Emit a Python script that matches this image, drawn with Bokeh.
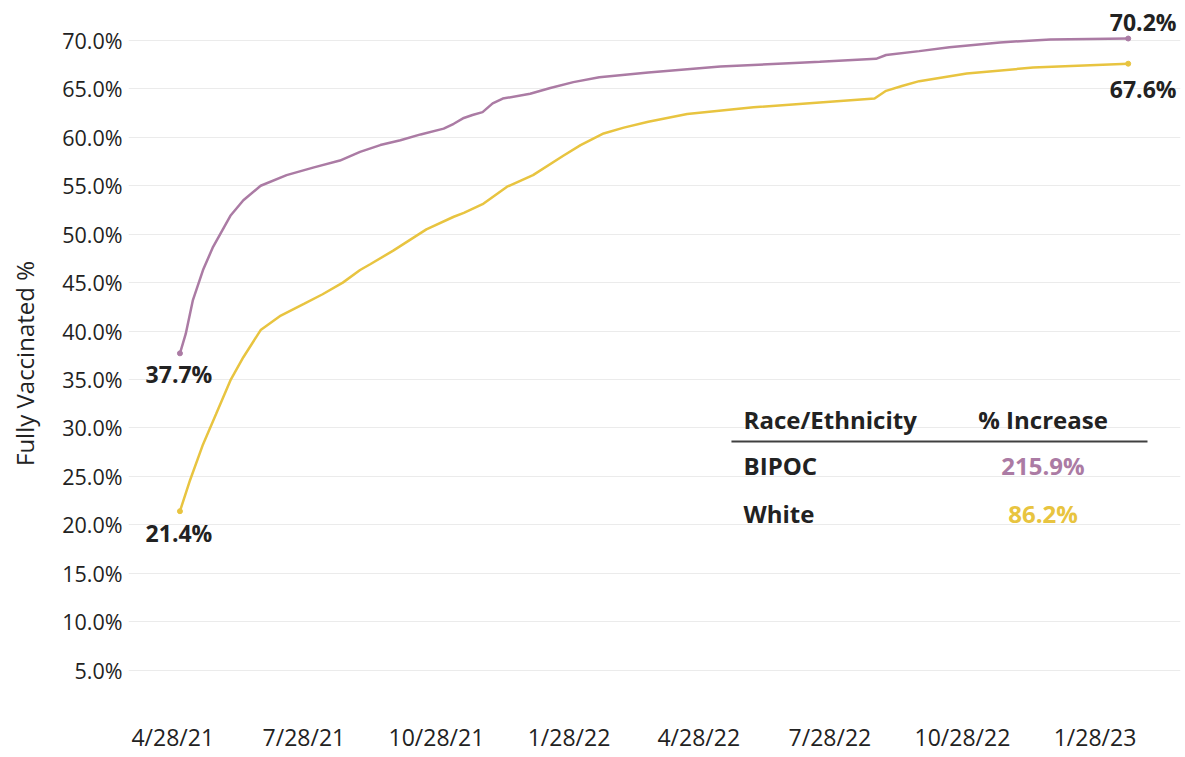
import pandas as pd
from bokeh.plotting import figure
from bokeh.models import FixedTicker, CustomJSTickFormatter, Range1d, ColumnDataSource
from bokeh.core.properties import value
from bokeh.embed import file_html
from bokeh.resources import INLINE

# ---------------- data ----------------
bipoc_dates = ["2021-05-03", "2021-05-07", "2021-05-12", "2021-05-19", "2021-05-26",
               "2021-06-07", "2021-06-16", "2021-06-28", "2021-07-16", "2021-08-04",
               "2021-08-22", "2021-09-05", "2021-09-19", "2021-10-03", "2021-10-17",
               "2021-11-02", "2021-11-09", "2021-11-16", "2021-11-22", "2021-11-29",
               "2021-12-06", "2021-12-13", "2022-01-01", "2022-01-15", "2022-01-31",
               "2022-02-18", "2022-03-24", "2022-05-13", "2022-07-07", "2022-07-21",
               "2022-08-29", "2022-09-05", "2022-09-28", "2022-10-19", "2022-11-23",
               "2022-12-28", "2023-02-20"]
bipoc_pct = [37.7, 39.7, 43.2, 46.3, 48.7,
             51.9, 53.5, 55.0, 56.1, 56.9,
             57.6, 58.5, 59.2, 59.7, 60.3,
             60.9, 61.4, 62.0, 62.3, 62.6,
             63.5, 64.0, 64.5, 65.1, 65.7,
             66.2, 66.7, 67.3, 67.7, 67.8,
             68.1, 68.5, 68.9, 69.3, 69.8,
             70.1, 70.2]

white_dates = ["2021-05-03", "2021-05-10", "2021-05-19", "2021-05-28", "2021-06-07",
               "2021-06-16", "2021-06-28", "2021-07-12", "2021-07-28", "2021-08-10",
               "2021-08-24", "2021-09-05", "2021-09-12", "2021-09-28", "2021-10-21",
               "2021-11-09", "2021-11-16", "2021-11-29", "2021-12-16", "2022-01-03",
               "2022-01-24", "2022-02-05", "2022-02-21", "2022-03-07", "2022-03-24",
               "2022-04-20", "2022-06-05", "2022-07-21", "2022-08-28", "2022-09-05",
               "2022-09-16", "2022-09-28", "2022-10-31", "2022-12-16", "2023-02-20"]
white_pct = [21.4, 24.6, 28.3, 31.4, 34.9,
             37.3, 40.1, 41.6, 42.8, 43.8,
             45.0, 46.3, 46.9, 48.3, 50.5,
             51.8, 52.2, 53.1, 54.9, 56.1,
             58.1, 59.2, 60.4, 61.0, 61.6,
             62.4, 63.1, 63.6, 64.0, 64.8,
             65.3, 65.8, 66.6, 67.2, 67.6]

tick_dates = ["2021-04-28", "2021-07-28", "2021-10-28", "2022-01-28",
              "2022-04-28", "2022-07-28", "2022-10-28", "2023-01-28"]
y_ticks = [0, 5, 10, 15, 20, 25, 30, 35, 40, 45, 50, 55, 60, 65, 70]

table_header = ["Race/Ethnicity", "% Increase"]
table_races = ["BIPOC", "White"]
table_increase = ["215.9%", "86.2%"]

# ---------------- styling ----------------
PURPLE = "#AB7BA4"
YELLOW = "#E8C440"
TXT = "#222222"
FONT = "Open Sans"

def ts(s):
    return pd.Timestamp(s)

base = ts("2021-04-28")
def day(d):
    return base + pd.Timedelta(days=d)

p = figure(width=1183, height=756, x_axis_type="datetime",
           output_backend="svg", toolbar_location=None,
           x_range=Range1d(day(-30.7), day(699.3)),
           y_range=Range1d(0, 73.3),
           min_border_left=128, min_border_right=3,
           min_border_top=8, min_border_bottom=38)
p.outline_line_color = None
p.background_fill_color = "white"
p.border_fill_color = "white"

# axes
xt = FixedTicker(ticks=[ts(d).value // 10**6 for d in tick_dates])
p.xaxis.ticker = xt
p.xaxis.formatter = CustomJSTickFormatter(code="""
const d = new Date(tick);
return (d.getUTCMonth()+1) + "/" + d.getUTCDate() + "/" + String(d.getUTCFullYear()).slice(2);
""")
yt = FixedTicker(ticks=y_ticks)
p.yaxis.ticker = yt
p.yaxis.formatter = CustomJSTickFormatter(code="""
return tick === 0 ? "" : tick.toFixed(1) + "%";
""")
for ax in (p.xaxis[0], p.yaxis[0]):
    ax.axis_line_color = None
    ax.major_tick_line_color = None
    ax.minor_tick_line_color = None
    ax.major_tick_out = 0
    ax.major_tick_in = 0
    ax.major_label_text_font = FONT
    ax.major_label_text_color = TXT
p.xaxis.major_label_text_font_size = "23px"
p.yaxis.major_label_text_font_size = "21.5px"
p.xaxis.major_label_standoff = 2
p.yaxis.major_label_standoff = 6
p.yaxis.axis_label = "Fully Vaccinated %"
p.yaxis.axis_label_text_font = FONT
p.yaxis.axis_label_text_font_size = "24px"
p.yaxis.axis_label_text_font_style = "normal"
p.yaxis.axis_label_text_color = TXT
p.yaxis.axis_label_standoff = 18

p.xgrid.visible = False
p.ygrid.ticker = yt
p.ygrid.grid_line_color = "#EBEBEB"
p.ygrid.grid_line_width = 1

# lines
bx = pd.to_datetime(bipoc_dates)
wx = pd.to_datetime(white_dates)
p.line(bx, bipoc_pct, line_color=PURPLE, line_width=2.5)
p.line(wx, white_pct, line_color=YELLOW, line_width=2.5)
p.scatter([bx[0], bx[-1]], [bipoc_pct[0], bipoc_pct[-1]], size=5, color=PURPLE)
p.scatter([wx[0], wx[-1]], [white_pct[0], white_pct[-1]], size=5, color=YELLOW)

# endpoint labels
lab = ColumnDataSource(dict(
    x=[bx[0], wx[0], bx[-1], wx[-1]],
    y=[bipoc_pct[0], white_pct[0], bipoc_pct[-1], white_pct[-1]],
    t=[f"{bipoc_pct[0]:.1f}%", f"{white_pct[0]:.1f}%",
       f"{bipoc_pct[-1]:.1f}%", f"{white_pct[-1]:.1f}%"],
    dx=[-1, -1, 15, 15],
    dy=[21, 21.5, -17, 25],
))
p.text(x="x", y="y", text="t", x_offset="dx", y_offset="dy", source=lab,
       text_font=value(FONT), text_font_style="bold", text_font_size="23px",
       text_color=TXT, text_align="center", text_baseline="middle")

# table
col1_x = day(396.1)
col2_x = day(603.9)
row_y = [26.11, 21.15]
p.text(x=[col1_x], y=[30.86], text=[table_header[0]],
       text_font=value(FONT), text_font_style="bold", text_font_size="24px",
       text_color=TXT, text_align="left", text_baseline="middle")
p.text(x=[col2_x], y=[30.86], text=[table_header[1]],
       text_font=value(FONT), text_font_style="bold", text_font_size="24px",
       text_color=TXT, text_align="center", text_baseline="middle")
p.segment(x0=[day(387.7)], y0=[28.59], x1=[day(676.4)], y1=[28.59],
          line_color="#404040", line_width=2)
p.text(x=[col1_x, col1_x], y=row_y, text=table_races,
       text_font=value(FONT), text_font_style="bold", text_font_size="24px",
       text_color=TXT, text_align="left", text_baseline="middle")
p.text(x=[col2_x, col2_x], y=row_y, text=table_increase,
       text_font=value(FONT), text_font_style="bold", text_font_size="24px",
       text_color=[PURPLE, YELLOW], text_align="center", text_baseline="middle")

open("out.html", "w").write(file_html(p, INLINE))
